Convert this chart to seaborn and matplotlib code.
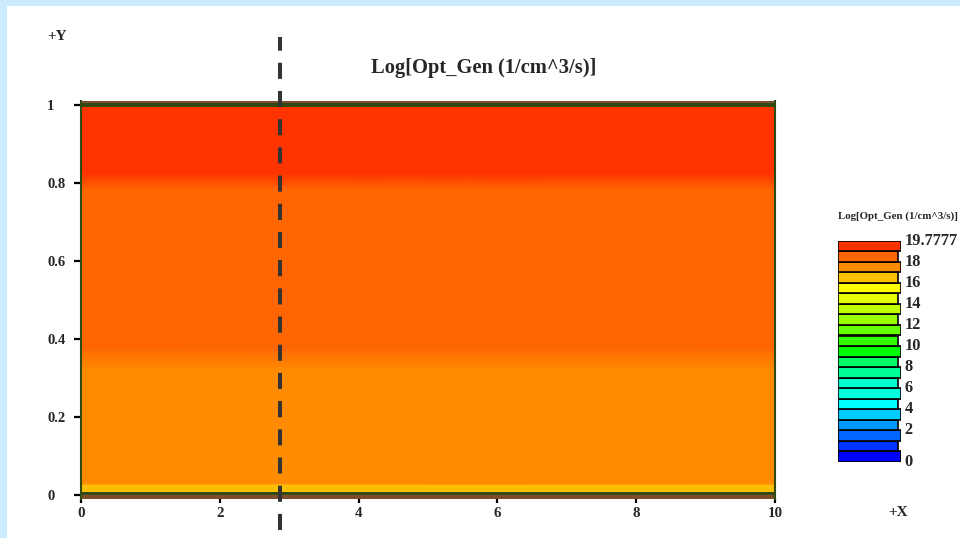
import numpy as np
import matplotlib
matplotlib.use("Agg")
import matplotlib.pyplot as plt
from matplotlib.colors import LinearSegmentedColormap
from matplotlib.patches import Rectangle
import seaborn as sns

# ---- data -----------------------------------------------------------------
# log10 optical generation rate along the device depth (y, um)
depth = [0.0085, 0.028, 0.0285, 0.32, 0.38, 0.782, 0.826, 0.996]
log_gen = [16.48, 16.48, 17.42, 17.42, 18.36, 18.36, 19.31, 19.31]
x_span = [0.0, 10.0]

# boundary / contact layers drawn above and below the semiconductor
bottom_contact = [-0.01, 0.0]
bottom_edge = [0.0, 0.0085]
top_edge = [0.996, 1.004]
top_contact = [1.004, 1.01]

# position of the vertical cut line
cut_x = 2.865

# colour scale: 21 levels from 0 to the maximum, listed bottom to top
vmax = 19.7777
level_colors = ["#0000FF", "#0033FF", "#0066FF", "#0099FF", "#00CCFF",
                "#00FFFF", "#00FFDD", "#00FFCC", "#00FF99", "#00FF66",
                "#00FF00", "#33FF00", "#66FF00", "#99FF00", "#C0FF00",
                "#E6FF00", "#FFFF00", "#FFC000", "#FF8C00", "#FF6600",
                "#FF3300"]
legend_labels = ["0", "2", "4", "6", "8", "10", "12", "14", "16", "18", "19.7777"]
legend_label_pos = [0, 3, 5, 7, 9, 11, 13, 15, 17, 19, 21]

x_ticks = [0, 2, 4, 6, 8, 10]
y_ticks = [0, 0.2, 0.4, 0.6, 0.8, 1.0]
y_tick_labels = ["0", "0.2", "0.4", "0.6", "0.8", "1"]

title = "Log[Opt_Gen (1/cm^3/s)]"

# ---- style ----------------------------------------------------------------
sns.set_theme(style="white")
plt.rcParams["font.family"] = ["Liberation Serif", "DejaVu Serif"]
plt.rcParams["font.weight"] = "bold"

W, H = 960, 538
fig = plt.figure(figsize=(W / 100, H / 100), dpi=100)
fig.patch.set_facecolor("#CCEBFF")
fig.add_artist(Rectangle((7 / W, 0), 1, (H - 6) / H, transform=fig.transFigure,
                         facecolor="white", edgecolor="none", zorder=0))

n = len(level_colors)
stops = [(0.0, level_colors[0])]
stops += [((i + 0.5) / n, c) for i, c in enumerate(level_colors)]
stops += [(1.0, level_colors[-1])]
cmap = LinearSegmentedColormap.from_list("optgen", stops)

# ---- main plot ------------------------------------------------------------
ax = fig.add_axes([81 / W, (H - 498.9) / H, 694 / W, 397.8 / H])
ax.set_facecolor("white")

yy = np.array(depth)
X, Y = np.meshgrid(np.array(x_span), yy)
C = np.repeat(np.array(log_gen)[:, None], 2, axis=1)
ax.pcolormesh(X, Y, C, shading="gouraud", cmap=cmap, vmin=0, vmax=vmax)

green = "#2F4A12"
brown = "#7E4E2A"
ax.fill_between(x_span, *bottom_contact, color=brown, lw=0)
ax.fill_between(x_span, *bottom_edge, color=green, lw=0)
ax.fill_between(x_span, *top_edge, color=green, lw=0)
ax.fill_between(x_span, *top_contact, color=brown, lw=0)

ax.set_xlim(x_span)
ax.set_ylim(bottom_contact[0], top_contact[1])

for s in ["top", "bottom"]:
    ax.spines[s].set_visible(False)
for s in ["left", "right"]:
    ax.spines[s].set_color(green)
    ax.spines[s].set_linewidth(1.5)

ax.set_xticks(x_ticks)
ax.set_xticklabels([str(t) for t in x_ticks])
ax.set_yticks(y_ticks)
ax.set_yticklabels(y_tick_labels)
ax.tick_params(axis="y", left=True, direction="out", length=5, width=1.6,
               color="black", pad=19.4, labelsize=10.5)
ax.tick_params(axis="x", bottom=True, direction="out", length=3, width=1.6,
               color="black", pad=3, labelsize=10.8)
for lbl in ax.get_yticklabels():
    lbl.set_horizontalalignment("left")
    lbl.set_fontweight("bold")
for lbl in ax.get_xticklabels():
    lbl.set_fontweight("bold")

ax.axvline(cut_x, ymin=-0.078, ymax=1.161, color="#333333", lw=2.9,
           linestyle=(0, (4, 3)), clip_on=False, zorder=5)

fig.text(484 / W, (H - 68) / H, title, ha="center", va="center",
         fontsize=14.8, fontweight="bold")
fig.text(47 / W, (H - 36) / H, "+Y", ha="left", va="center",
         fontsize=11, fontweight="bold")
fig.text(888 / W, (H - 512) / H, "+X", ha="left", va="center",
         fontsize=11, fontweight="bold")

# ---- colour legend --------------------------------------------------------
lg = fig.add_axes([838 / W, (H - 461.5) / H, 63 / W, 220.5 / H])
widths = [1.0 if i % 2 == 0 else 0.95 for i in range(n)]
lg.barh(np.arange(n), widths, height=1.0, left=0, align="edge",
        color=level_colors, edgecolor="black", linewidth=1.2)
lg.set_xlim(0, 1.0)
lg.set_ylim(0, n)
lg.axis("off")
for lab, pos in zip(legend_labels, legend_label_pos):
    lg.text(1.06, pos, lab, ha="left", va="center", fontsize=11.8,
            fontweight="bold", clip_on=False)
fig.text(838 / W, (H - 216) / H, title, ha="left", va="center",
         fontsize=7.8, fontweight="bold")

fig.savefig("out.png", dpi=100)
